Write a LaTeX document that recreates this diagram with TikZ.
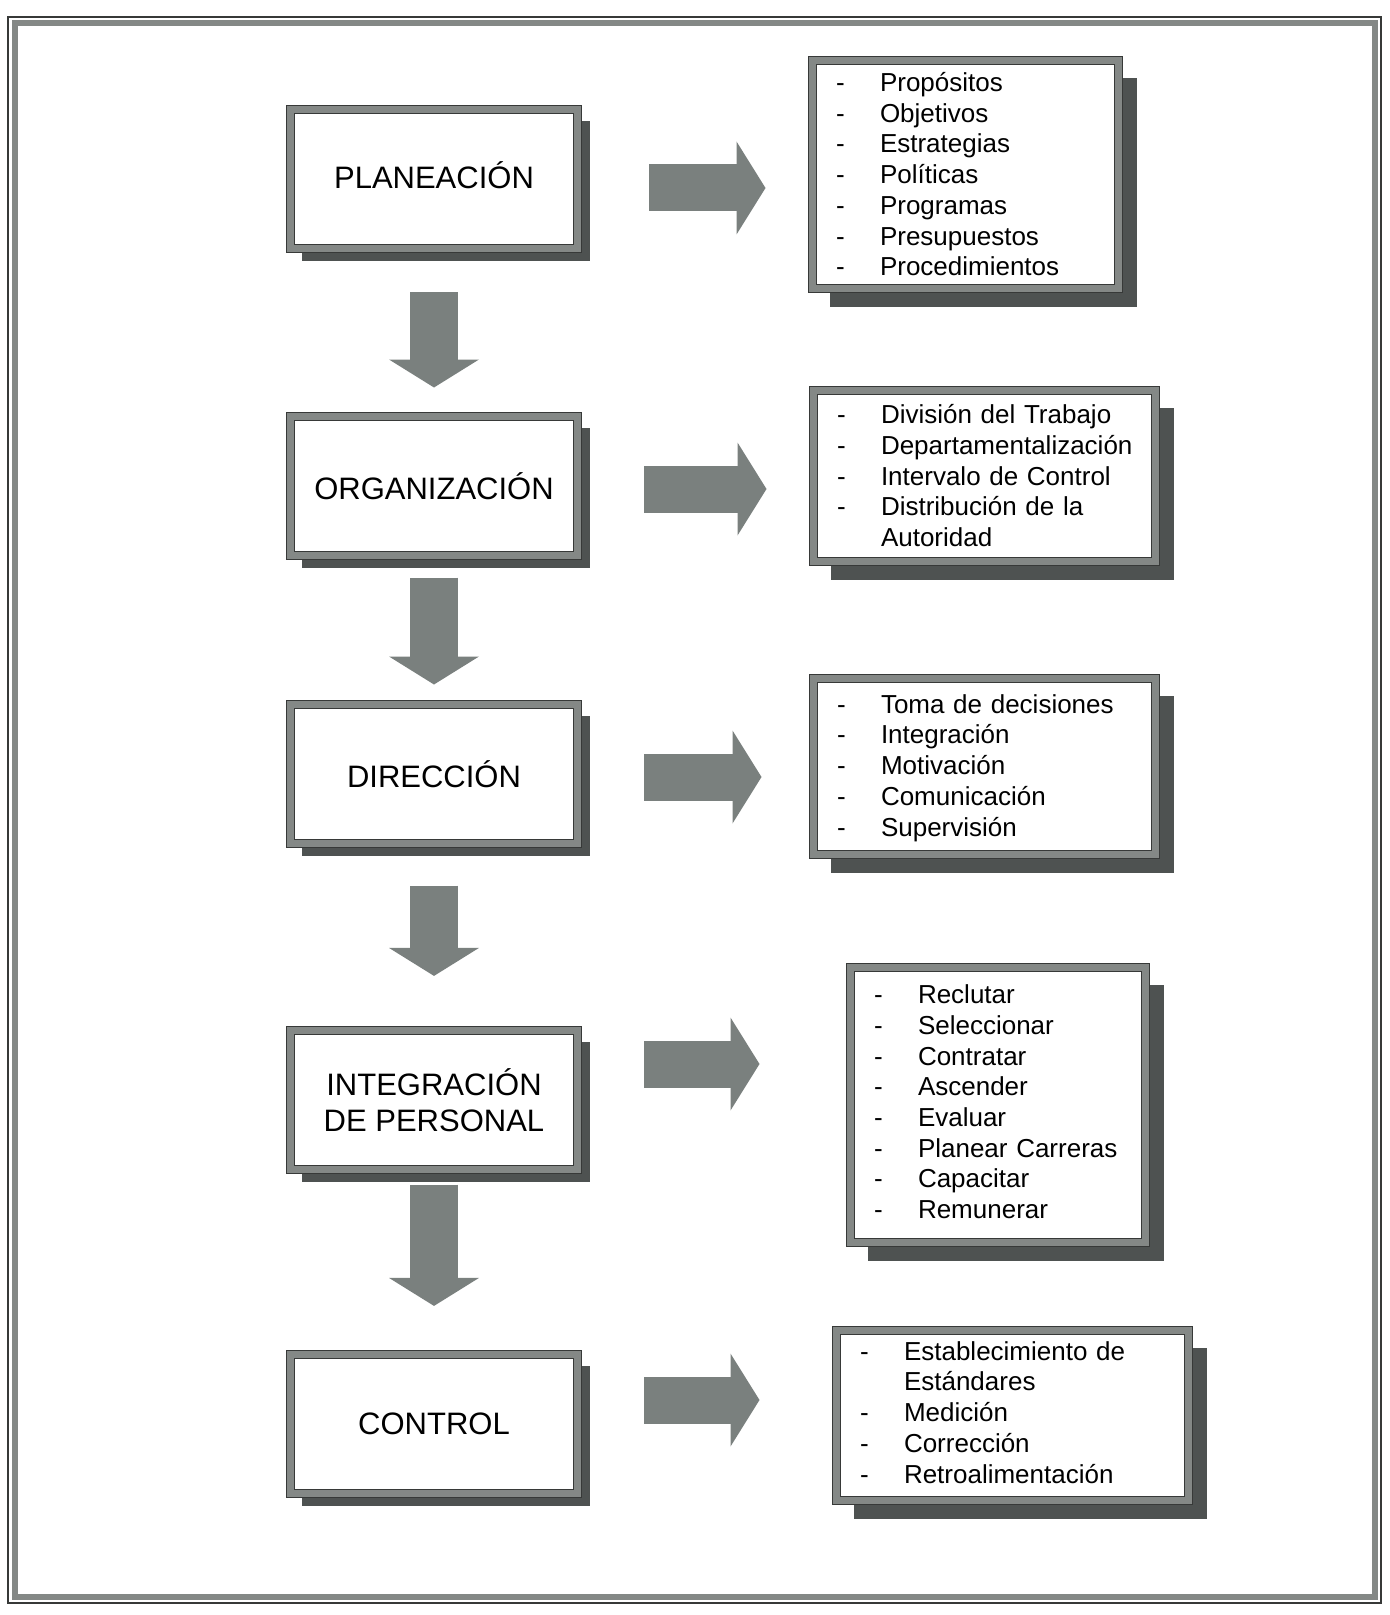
\documentclass[tikz,border=0pt]{standalone}
\usepackage{fontspec}
\setmainfont{Liberation Sans}
\usetikzlibrary{arrows.meta,shadows}

\definecolor{grisborde}{RGB}{132,136,134}
\definecolor{grissombra}{RGB}{78,82,81}
\definecolor{grisflecha}{RGB}{122,128,126}
\definecolor{grislinea}{RGB}{55,57,56}

\tikzset{
	caja/.style={draw=grislinea, line width=0.4pt, double=grisborde, double distance=3.5pt,
		fill=white, inner sep=0pt},
	etapa/.style={caja, minimum width=143.7pt, minimum height=69.7pt, align=center,
		font=\fontsize{15.5}{18}\selectfont,
		drop shadow={shadow xshift=6pt, shadow yshift=-6pt, fill=grissombra, opacity=1}},
	lista/.style={caja, align=left, inner xsep=11.85pt, font=\fontsize{13}{15.35}\selectfont,
		drop shadow={shadow xshift=9pt, shadow yshift=-9pt, fill=grissombra, opacity=1}},
	flechaabajo/.style={grisflecha, line width=24pt,
		-{Triangle[width=45pt, length=14pt, line width=0pt]}},
	flechader/.style={grisflecha, line width=23.5pt,
		-{Triangle[width=46.5pt, length=14.5pt, line width=0pt]}, shorten <=33pt}
}

\begin{document}
\begin{tikzpicture}[x=0.5pt, y=-0.5pt]
		\useasboundingbox (0,0) rectangle (1390,1615);
		\fill[white] (0,0) rectangle (1390,1615);

		% marco
		\draw[line width=1pt, grislinea] (8,17) rectangle (1381,1603);
		\draw[line width=3pt, grisborde] (14.5,23.5) rectangle (1375,1597);

		\node[etapa] (plan) at (434,179) {\raisebox{2pt}[\height][\depth]{PLANEACIÓN}};
		\node[etapa] (org) at (434,486) {ORGANIZACIÓN};
		\node[etapa] (dir) at (434,774) {DIRECCIÓN};
		\node[etapa] (integ) at (434,1100) {INTEGRACIÓN\\DE PERSONAL};
		\node[etapa] (ctrl) at (434,1424) {CONTROL};

		\node[lista, text width=129.5pt, minimum height=114.2pt] (lista1) at (965.5,174.5) {%
			\raisebox{-1.5pt}[\height][\depth]{\begin{tabular}{@{}p{22pt}@{}l@{}}
				- & Propósitos\\ - & Objetivos\\ - & Estrategias\\ - & Políticas\\
				- & Programas\\ - & Presupuestos\\ - & Procedimientos
			\end{tabular}}};
		\node[lista, text width=147.5pt, minimum height=85.7pt] (lista2) at (984.5,476) {%
			\raisebox{-1.5pt}[\height][\depth]{\begin{tabular}{@{}p{22pt}@{}l@{}}
				- & División del Trabajo\\ - & Departamentalización\\ - & Intervalo de Control\\
				- & Distribución de la\\ & Autoridad
			\end{tabular}}};
		\node[lista, text width=147.5pt, minimum height=88.2pt] (lista3) at (984.5,766.5) {%
			\raisebox{-1pt}[\height][\depth]{\begin{tabular}{@{}p{22pt}@{}l@{}}
				- & Toma de decisiones\\ - & Integración\\ - & Motivación\\
				- & Comunicación\\ - & Supervisión
			\end{tabular}}};
		\node[lista, text width=124pt, minimum height=137.7pt] (lista4) at (998,1105) {%
			\begin{tabular}{@{}p{22pt}@{}l@{}}
				- & Reclutar\\ - & Seleccionar\\ - & Contratar\\ - & Ascender\\
				- & Evaluar\\ - & Planear Carreras\\ - & Capacitar\\ - & Remunerar
			\end{tabular}};
		\node[lista, text width=152.5pt, minimum height=85.2pt] (lista5) at (1012.5,1415.5) {%
			\begin{tabular}{@{}p{22pt}@{}l@{}}
				- & Establecimiento de\\ & Estándares\\ - & Medición\\
				- & Corrección\\ - & Retroalimentación
			\end{tabular}};

		\draw[flechaabajo, shorten <=21.7pt, shorten >=14.2pt] (plan) -- (org);
		\draw[flechaabajo, shorten <=10.7pt, shorten >=9.7pt] (org) -- (dir);
		\draw[flechaabajo, shorten <=20.7pt, shorten >=27pt] (dir) -- (integ);
		\draw[flechaabajo, shorten <=7.2pt, shorten >=24pt] (integ) -- (ctrl);

		\draw[flechader, shorten <=35.5pt, shorten >=23.2pt] (plan.east |- 0,188) -- (lista1.west |- 0,188);
		\draw[flechader, shorten >=23.2pt] (org.east |- 0,489) -- (lista2.west |- 0,489);
		\draw[flechader, shorten >=25.7pt] (dir.east |- 0,777) -- (lista3.west |- 0,777);
		\draw[flechader, shorten >=45.2pt] (integ.east |- 0,1064) -- (lista4.west |- 0,1064);
		\draw[flechader, shorten >=38.2pt] (ctrl.east |- 0,1400) -- (lista5.west |- 0,1400);

	\end{tikzpicture}
\end{document}
